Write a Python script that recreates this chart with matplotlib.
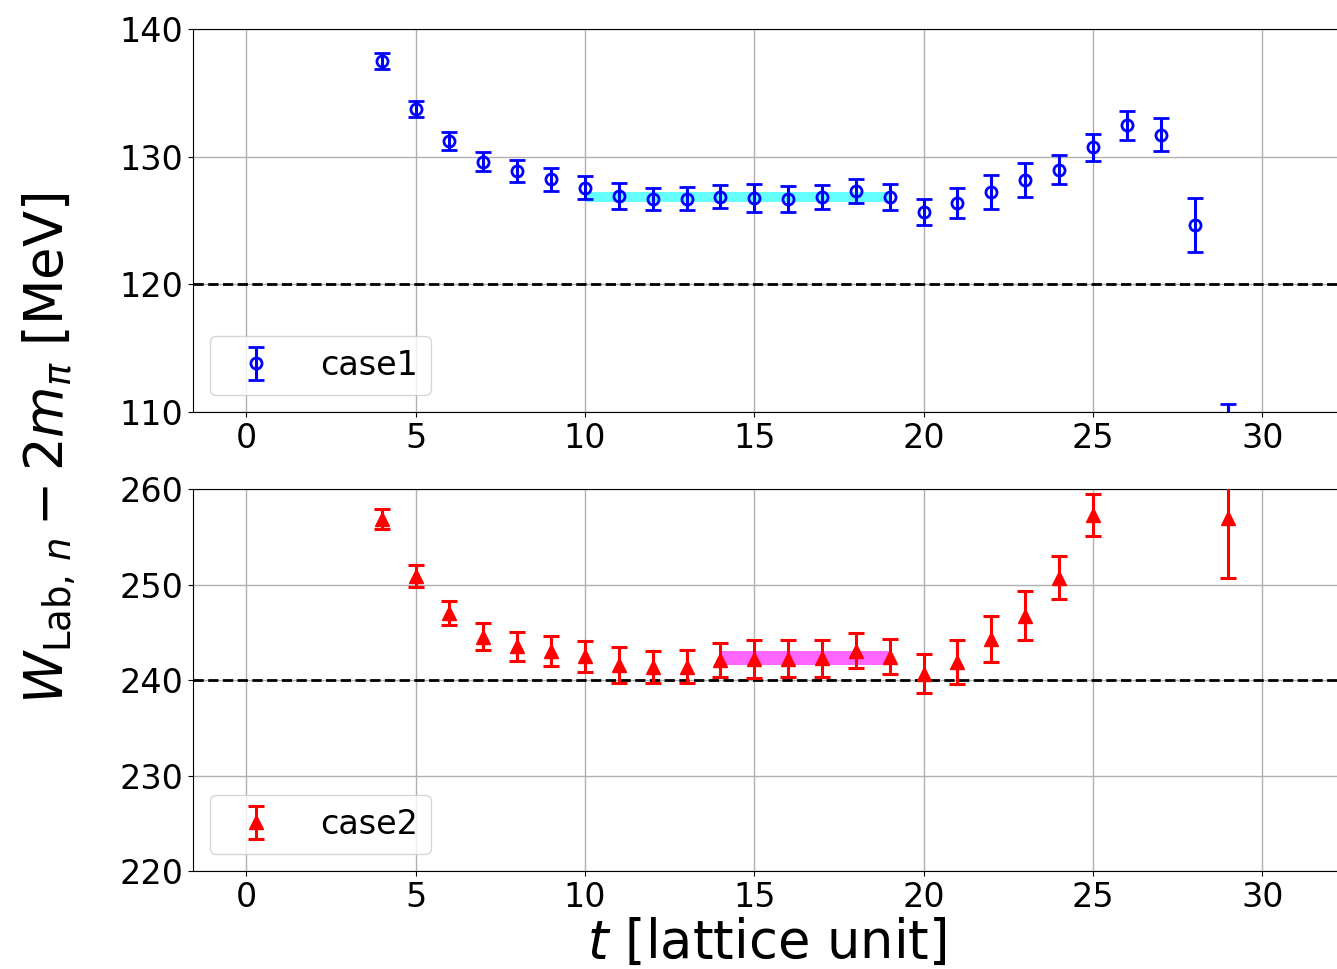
import matplotlib
matplotlib.use("Agg")
import matplotlib.pyplot as plt
import numpy as np

# case1 (top panel)
t1 = np.arange(4, 30)
y1 = [137.5, 133.74, 131.23, 129.61, 128.88, 128.23, 127.55, 126.92, 126.66, 126.71,
      126.87, 126.79, 126.71, 126.82, 127.31, 126.87, 125.68, 126.35, 127.26, 128.15,
      128.98, 130.73, 132.46, 131.7, 124.65, 108.0]
e1 = [0.63, 0.65, 0.69, 0.77, 0.85, 0.89, 0.9, 1.0, 0.87, 0.89,
      0.93, 1.1, 1.02, 0.95, 0.94, 1.02, 1.04, 1.17, 1.33, 1.33,
      1.16, 1.08, 1.13, 1.29, 2.14, 2.6]
fit1_range = (10, 19)
fit1_val, fit1_err = 126.83, 0.38

# case2 (bottom panel)
t2 = list(range(4, 26)) + [29]
y2 = [256.84, 250.87, 247.02, 244.54, 243.54, 243.04, 242.5, 241.57, 241.4, 241.38,
      242.09, 242.23, 242.25, 242.28, 243.07, 242.44, 240.68, 241.88, 244.29, 246.73,
      250.7, 257.28, 257.0]
e2 = [1.06, 1.17, 1.26, 1.43, 1.52, 1.6, 1.64, 1.92, 1.68, 1.73,
      1.81, 1.99, 1.9, 1.94, 1.82, 1.82, 2.01, 2.27, 2.44, 2.55,
      2.25, 2.2, 6.35]
fit2_range = (14, 19)
fit2_val, fit2_err = 242.32, 0.75

fig = plt.figure(figsize=(13.37, 9.69), dpi=100)
ax1 = fig.add_axes([0.1444, 0.5748, 0.858, 0.3953])
ax2 = fig.add_axes([0.1444, 0.1011, 0.858, 0.3942])

fs = 24

ax1.fill_between(fit1_range, fit1_val - fit1_err, fit1_val + fit1_err,
                 color='cyan', alpha=0.6, lw=0, zorder=2)
ax1.errorbar(t1, y1, yerr=e1, fmt='o', color='blue', mfc='none', ms=8, mew=2,
             elinewidth=2.2, capsize=6, capthick=2.2, label='case1', zorder=3)
ax1.axhline(120, color='black', ls='--', lw=2, zorder=1)
ax1.set_ylim(110, 140)
ax1.set_yticks([110, 120, 130, 140])

ax2.fill_between(fit2_range, fit2_val - fit2_err, fit2_val + fit2_err,
                 color='magenta', alpha=0.6, lw=0, zorder=2)
ax2.errorbar(t2, y2, yerr=e2, fmt='^', color='red', ms=9.5,
             elinewidth=2.2, capsize=6, capthick=2.2, label='case2', zorder=3)
ax2.axhline(240, color='black', ls='--', lw=2, zorder=1)
ax2.set_ylim(220, 260)
ax2.set_yticks([220, 230, 240, 250, 260])

for ax in (ax1, ax2):
    ax.set_xlim(-1.57, 32.3)
    ax.set_xticks([0, 5, 10, 15, 20, 25, 30])
    ax.grid(True, color='#b0b0b0', lw=1)
    ax.set_axisbelow(True)
    ax.tick_params(labelsize=fs)
    ax.legend(loc='lower left', fontsize=fs, handletextpad=0.9)

ax2.set_xlabel(r'$t$ [lattice unit]', fontsize=38, labelpad=2)
fig.text(0.037, 0.537, r'$W_{\mathrm{Lab},\,n}-2m_\pi$ [MeV]', fontsize=38,
         rotation=90, ha='center', va='center')

fig.savefig('out.png', dpi=100)
